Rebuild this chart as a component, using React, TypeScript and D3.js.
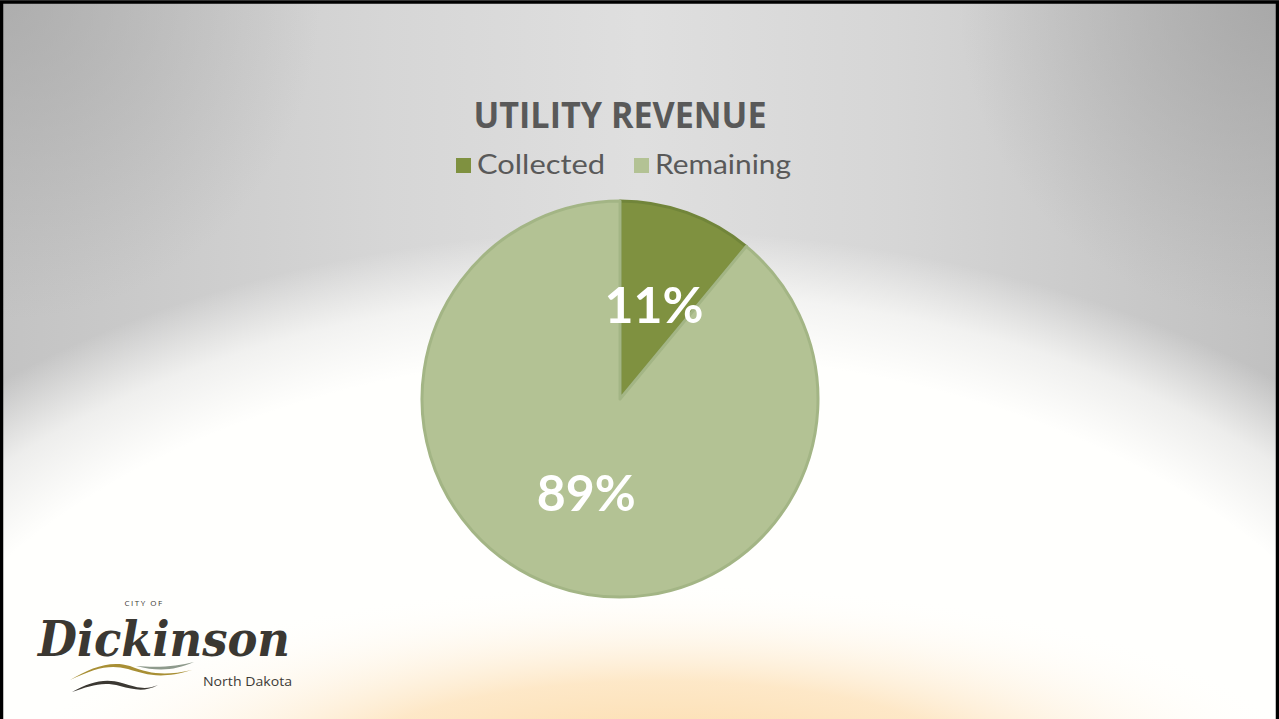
import { useEffect, useRef } from 'react';
import * as d3 from 'd3';

const categories = ['Collected', 'Remaining'];
const values = [11, 89];
const labels = ['11%', '89%'];
const colors = ['#7f9140', '#b3c294'];
const strokes = ['#71853a', '#a3b585'];

const W = 1279;
const H = 719;

export default function App() {
    const ref = useRef<SVGSVGElement | null>(null);

    useEffect(() => {
        document.body.style.margin = '0';
        const svg = d3.select(ref.current);
        svg.selectAll('*').remove();

        const defs = svg.append('defs');

        // grey backdrop, lighter towards the middle
        const base = defs.append('linearGradient').attr('id', 'base')
            .attr('x1', 0).attr('x2', 1).attr('y1', 0).attr('y2', 0);
        [[0, '#c3c3c3'], [0.3, '#d6d6d6'], [0.5, '#dfdfdf'], [0.7, '#d6d6d6'], [1, '#c0c0c0']]
            .forEach(([o, c]) => base.append('stop').attr('offset', o as number).attr('stop-color', c as string));

        const corner = (id: string, x: number, a: number) => {
            const cg = defs.append('radialGradient').attr('id', id)
                .attr('gradientUnits', 'userSpaceOnUse')
                .attr('cx', x).attr('cy', 0).attr('r', 320);
            cg.append('stop').attr('offset', 0).attr('stop-color', '#a4a4a4').attr('stop-opacity', a);
            cg.append('stop').attr('offset', 1).attr('stop-color', '#a4a4a4').attr('stop-opacity', 0);
        };
        corner('cornerL', 0, 0.7);
        corner('cornerR', W, 0.85);

        const spot = defs.append('radialGradient').attr('id', 'spot')
            .attr('gradientUnits', 'userSpaceOnUse')
            .attr('cx', 640).attr('cy', 850).attr('r', 978)
            .attr('gradientTransform', `translate(640,850) scale(1,${620 / 978}) translate(-640,-850)`);
        [[0, 1], [0.8, 1], [0.9, 0.7], [1, 0]]
            .forEach(([o, a]) => spot.append('stop').attr('offset', o).attr('stop-color', '#fffffd').attr('stop-opacity', a));

        const glow = defs.append('radialGradient')
            .attr('id', 'glow')
            .attr('gradientUnits', 'userSpaceOnUse')
            .attr('cx', 660).attr('cy', 780).attr('r', 660)
            .attr('gradientTransform', 'translate(660,780) scale(1,0.3) translate(-660,-780)');
        [[0, '#fbd7a0', 1], [0.5, '#fde2ba', 0.8], [1, '#ffffff', 0]]
            .forEach(([o, c, a]) => glow.append('stop').attr('offset', o as number).attr('stop-color', c as string).attr('stop-opacity', a as number));

        svg.append('rect').attr('width', W).attr('height', H).attr('fill', 'url(#base)');
        svg.append('rect').attr('width', W).attr('height', H).attr('fill', 'url(#cornerL)');
        svg.append('rect').attr('width', W).attr('height', H).attr('fill', 'url(#cornerR)');
        svg.append('rect').attr('width', W).attr('height', H).attr('fill', 'url(#spot)');
        svg.append('rect').attr('width', W).attr('height', H).attr('fill', 'url(#glow)');

        // title
        svg.append('text')
            .attr('x', 620).attr('y', 128)
            .attr('text-anchor', 'middle')
            .attr('font-family', 'Open Sans')
            .attr('font-weight', 'bold')
            .attr('font-size', 36)
            .attr('fill', '#595959')
            .attr('textLength', 293)
            .attr('lengthAdjust', 'spacingAndGlyphs')
            .text('UTILITY REVENUE');

        // legend
        const legendX = [456, 634];
        const legendW = [128, 136];
        const lg = svg.append('g').selectAll('g').data(categories).enter().append('g');
        lg.append('rect')
            .attr('x', (d, i) => legendX[i]).attr('y', 158)
            .attr('width', 15).attr('height', 15)
            .attr('fill', (d, i) => colors[i]);
        lg.append('text')
            .attr('x', (d, i) => legendX[i] + 21).attr('y', 174)
            .attr('font-family', 'Lato')
            .attr('font-size', 27)
            .attr('fill', '#595959')
            .attr('textLength', (d, i) => legendW[i])
            .attr('lengthAdjust', 'spacingAndGlyphs')
            .text(d => d);

        // pie
        const cx = 620, cy = 399, r = 198;
        const pie = d3.pie<number>().sort(null).value(d => d);
        const arcs = pie(values);
        const arc = d3.arc<d3.PieArcDatum<number>>().innerRadius(0).outerRadius(r);
        const labelArc = d3.arc<d3.PieArcDatum<number>>().innerRadius(100).outerRadius(100);

        const g = svg.append('g').attr('transform', `translate(${cx},${cy})`);
        g.selectAll('path.slice').data(arcs).enter().append('path')
            .attr('class', 'slice')
            .attr('d', arc)
            .attr('fill', (d, i) => colors[i])
            .attr('stroke', (d, i) => strokes[i])
            .attr('stroke-width', 3)
            .attr('stroke-linejoin', 'round');

        g.selectAll('text.lbl').data(arcs).enter().append('text')
            .attr('class', 'lbl')
            .attr('transform', d => `translate(${labelArc.centroid(d)})`)
            .attr('text-anchor', 'middle')
            .attr('dy', '0.36em')
            .attr('font-family', 'Lato')
            .attr('font-weight', 'bold')
            .attr('font-size', 50)
            .attr('fill', '#ffffff')
            .text((d, i) => labels[i]);

        // logo
        const logo = svg.append('g');
        logo.append('text')
            .attr('x', 144).attr('y', 606)
            .attr('text-anchor', 'middle')
            .attr('font-family', 'Open Sans')
            .attr('font-size', 8)
            .attr('letter-spacing', 1.5)
            .attr('fill', '#3d3a35')
            .text('CITY OF');
        logo.append('text')
            .attr('x', 38).attr('y', 656)
            .attr('font-family', 'DejaVu Serif')
            .attr('font-style', 'italic')
            .attr('font-weight', 'bold')
            .attr('font-size', 48)
            .attr('fill', '#3b3832')
            .attr('textLength', 252)
            .attr('lengthAdjust', 'spacingAndGlyphs')
            .text('Dickinson');
        logo.append('path')
            .attr('d', 'M70,680 C95,668 110,664 128,669 C145,674 160,680 192,670 C165,676 150,674 130,666 C110,660 90,668 70,680 Z')
            .attr('fill', '#a88f34');
        logo.append('path')
            .attr('d', 'M136,666 C160,672 175,670 194,662 C178,666 160,668 136,666 Z')
            .attr('fill', '#8e9a8c');
        logo.append('path')
            .attr('d', 'M72,692 C90,682 105,678 122,683 C138,688 146,690 158,685 C145,692 135,690 120,686 C102,681 90,686 72,692 Z')
            .attr('fill', '#3b3832');
        logo.append('text')
            .attr('x', 203).attr('y', 686)
            .attr('font-family', 'Open Sans')
            .attr('font-size', 13)
            .attr('fill', '#3d3a35')
            .attr('textLength', 89)
            .attr('lengthAdjust', 'spacingAndGlyphs')
            .text('North Dakota');

        // frame
        svg.append('rect')
            .attr('x', 1.5).attr('y', 2).attr('width', W - 3).attr('height', H + 5)
            .attr('fill', 'none')
            .attr('stroke', '#000')
            .attr('stroke-width', 3.5);
    }, []);

    return (
        <svg
            ref={ref}
            width={W}
            height={H}
            style={{ display: 'block', position: 'absolute', top: 0, left: 0 }}
        />
    );
}
